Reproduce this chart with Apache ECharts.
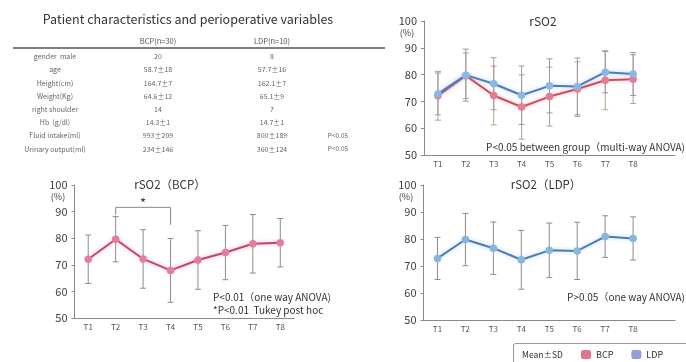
<!DOCTYPE html>
<html>
<head>
<meta charset="utf-8">
<script src="https://cdn.jsdelivr.net/npm/echarts@6/dist/echarts.min.js"></script>
<style>
html,body{margin:0;padding:0;background:#fff;}
#c{width:686px;height:362px;}
</style>
</head>
<body>
<div id="c"></div>
<script>
// ---------- data ----------
var categories = ['T1','T2','T3','T4','T5','T6','T7','T8'];
var bcpMean = [72.1, 79.6, 72.2, 67.9, 71.8, 74.6, 77.9, 78.3];
var bcpSD   = [9.1, 8.5, 11.0, 12.0, 11.0, 10.2, 11.0, 9.1];
var ldpMean = [72.8, 79.8, 76.6, 72.3, 75.8, 75.6, 80.9, 80.2];
var ldpSD   = [7.8, 9.7, 9.7, 10.9, 10.1, 10.6, 7.7, 8.0];
var yTicks = {min: 50, max: 100, step: 10};

var tableTitle = 'Patient characteristics and perioperative variables';
var tableHeader = ['BCP(n=30)', 'LDP(n=10)'];
var rowLabels = ['gender  male','age','Height(cm)','Weight(Kg)','right shoulder','Hb  (g/dl)','Fluid intake(ml)','Urinary output(ml)'];
var bcpCol = ['20','58.7±18','164.7±7','64.6±12','14','14.3±1','993±209','234±146'];
var ldpCol = ['8','57.7±16','162.1±7','65.1±9','7','14.7±1','800±189','360±124'];
var pCol   = ['','','','','','','P<0.05','P<0.05'];

var bracket = {from: 1, to: 3, top: 91.6, leftEnd: 88.8, rightEnd: 85, starAt: 2, starY: 93.2};

// ---------- helpers ----------
var FONT = '"Noto Sans CJK JP", "Noto Sans", sans-serif';
function errData(mean, sd){ return mean.map(function(m,i){ return [i, m - sd[i], m + sd[i]]; }); }
function errRender(color){
  return function(params, api){
    var x = api.value(0);
    var lo = api.coord([x, api.value(1)]);
    var hi = api.coord([x, api.value(2)]);
    var w = 3;
    var st = {stroke: color, lineWidth: 1};
    return {type:'group', children:[
      {type:'line', shape:{x1:lo[0], y1:lo[1], x2:hi[0], y2:hi[1]}, style: st},
      {type:'line', shape:{x1:lo[0]-w, y1:lo[1], x2:lo[0]+w, y2:lo[1]}, style: st},
      {type:'line', shape:{x1:hi[0]-w, y1:hi[1], x2:hi[0]+w, y2:hi[1]}, style: st}
    ]};
  };
}
function xAx(grid, extra){
  return {type:'category', gridIndex:grid, data: extra ? categories.concat(['']) : categories,
    boundaryGap:true,
    axisLine:{lineStyle:{color:'#8a8a8a', width:1}},
    axisTick:{show:false},
    axisLabel:{fontSize:8, color:'#555', margin:5, interval:0, fontFamily:FONT}};
}
function yAx(grid){
  return {type:'value', gridIndex:grid, min:yTicks.min, max:yTicks.max, interval:yTicks.step,
    splitLine:{show:false},
    axisLine:{show:true, lineStyle:{color:'#8a8a8a', width:1}},
    axisTick:{show:true, length:3, lineStyle:{color:'#8a8a8a'}},
    axisLabel:{fontSize:11, color:'#404040', margin:7, fontFamily:FONT}};
}
function lineSeries(name, grid, data, lineColor, markColor, glow){
  return {type:'line', name:name, xAxisIndex:grid, yAxisIndex:grid, data:data,
    symbol:'circle', symbolSize:7.5, z:5,
    lineStyle:{color:lineColor, width:2, shadowColor:glow, shadowBlur:4},
    itemStyle:{color:markColor, borderColor:markColor, borderWidth:0},
    emphasis:{disabled:true}, animation:false};
}
function errSeries(grid, mean, sd, color){
  return {type:'custom', xAxisIndex:grid, yAxisIndex:grid, data: errData(mean, sd),
    encode:{x:0, y:[1,2]}, renderItem: errRender(color), z:2, silent:true, animation:false};
}

// ---------- graphics (table and texts) ----------
var g = [];
function txt(x, y, s, size, color, align, weight){
  g.push({type:'text', x:x, y:y, silent:true, style:{text:s, fontSize:size, fill:color||'#333',
    align:align||'center', verticalAlign:'middle', fontFamily:FONT, fontWeight:weight||'normal'}});
}
txt(188, 19, tableTitle, 12.5, '#333');
txt(158, 41.5, tableHeader[0], 7.5, '#555');
txt(272, 41.5, tableHeader[1], 7.5, '#555');
g.push({type:'line', silent:true, shape:{x1:13, y1:48, x2:385, y2:48}, style:{stroke:'#555', lineWidth:1.6}});
rowLabels.forEach(function(r, i){
  var y = 56.5 + i * 13.2;
  txt(55, y, r, 7, '#666');
  txt(158, y, bcpCol[i], 7, '#666');
  txt(272, y, ldpCol[i], 7, '#666');
  if (pCol[i]) txt(338, y, pCol[i], 6.5, '#666');
});
// chart titles
txt(543, 21, 'rSO2', 12, '#333');
txt(170, 185, 'rSO2（BCP）', 11.5, '#333');
txt(546, 185, 'rSO2（LDP）', 11.5, '#333');
// (%) labels
txt(407, 33, '(%)', 9, '#444');
txt(58, 197, '(%)', 9, '#444');
txt(406, 197, '(%)', 9, '#444');
// annotations
txt(685, 147, 'P<0.05 between group（multi-way ANOVA)', 10, '#333', 'right');
txt(213, 297, 'P<0.01（one way ANOVA)', 10, '#333', 'left');
txt(213, 310, '*P<0.01  Tukey post hoc', 10, '#333', 'left');
txt(685, 297, 'P>0.05（one way ANOVA)', 10, '#333', 'right');
// legend box
g.push({type:'rect', silent:true, shape:{x:513.5, y:343.5, width:180, height:30, r:2}, style:{fill:'#fff', stroke:'#999', lineWidth:1}});
txt(522, 355, 'Mean±SD', 8.5, '#333', 'left');

// ---------- chart ----------
var chart = echarts.init(document.getElementById('c'), null, {renderer:'canvas'});
chart.setOption({
  animation:false,
  backgroundColor:'#fff',
  graphic: g,
  legend:{
    data:[{name:'BCP', itemStyle:{color:'#df7590'}}, {name:'LDP', itemStyle:{color:'#909fd6'}}],
    left:581, top:350, padding:0, itemWidth:10, itemHeight:9, itemGap:18, icon:'roundRect',
    textStyle:{fontSize:9, color:'#333', fontFamily:FONT}, selectedMode:false, z:10
  },
  grid:[
    {left:424, top:21, right:11, bottom:207},
    {left:74.5, top:185, right:392, bottom:44},
    {left:423.5, top:185, right:11, bottom:42}
  ],
  xAxis:[xAx(0, true), xAx(1, false), xAx(2, true)],
  yAxis:[yAx(0), yAx(1), yAx(2)],
  series:[
    errSeries(0, bcpMean, bcpSD, '#b3a08f'),
    errSeries(0, ldpMean, ldpSD, '#9a9a9a'),
    lineSeries('BCP', 0, bcpMean, '#cc4f5c', '#e67b93', 'rgba(230,120,140,0.5)'),
    lineSeries('LDP', 0, ldpMean, '#4a7dbb', '#8ab8e6', 'rgba(120,170,230,0.5)'),
    errSeries(1, bcpMean, bcpSD, '#8c8c8c'),
    lineSeries('BCP', 1, bcpMean, '#c2466b', '#e37f98', 'rgba(235,130,160,0.6)'),
    {type:'custom', xAxisIndex:1, yAxisIndex:1, silent:true, animation:false, z:3,
      data:[[bracket.from, bracket.to, bracket.top, bracket.leftEnd, bracket.rightEnd, bracket.starAt, bracket.starY]],
      encode:{x:[0,1], y:[2]},
      renderItem:function(params, api){
        var a = api.coord([api.value(0), api.value(2)]);
        var b = api.coord([api.value(1), api.value(2)]);
        var aEnd = api.coord([api.value(0), api.value(3)]);
        var bEnd = api.coord([api.value(1), api.value(4)]);
        var s = api.coord([api.value(5), api.value(6)]);
        var st = {stroke:'#888', lineWidth:1, fill:null};
        return {type:'group', children:[
          {type:'polyline', shape:{points:[[aEnd[0], aEnd[1]], a, b, [bEnd[0], bEnd[1]]]}, style:st},
          {type:'text', x:s[0], y:s[1], style:{text:'*', fontSize:13, fill:'#333', align:'center', verticalAlign:'middle', fontFamily:FONT}}
        ]};
      }},
    errSeries(2, ldpMean, ldpSD, '#8c8c8c'),
    lineSeries('LDP', 2, ldpMean, '#4a7db6', '#86b6dc', 'rgba(120,170,220,0.5)')
  ]
});
</script>
</body>
</html>
